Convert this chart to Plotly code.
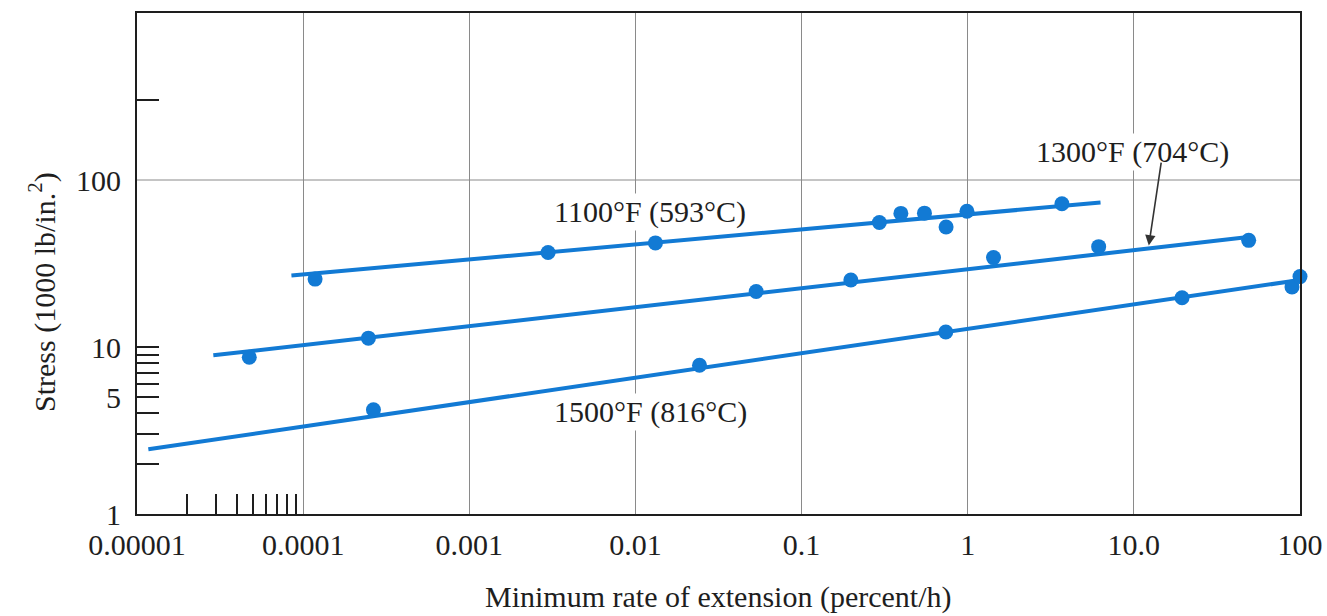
import math
import plotly.graph_objects as go

# ---------------- data ----------------
# 1100°F (593°C)
x_1100 = [1.18e-4, 0.00298, 0.0132, 0.294, 0.396, 0.549, 0.741, 0.989, 3.69]
y_1100 = [25.5, 36.8, 42.0, 55.6, 63.1, 63.3, 52.3, 65.0, 72.1]
fit_x_1100 = [8.5e-5, 6.3]
fit_y_1100 = [26.8, 73.4]

# 1300°F (704°C)
x_1300 = [4.74e-5, 2.47e-4, 0.0533, 0.198, 1.43, 6.14, 49.1]
y_1300 = [8.68, 11.3, 21.5, 25.2, 34.3, 39.9, 43.5]
fit_x_1300 = [2.88e-5, 48.9]
fit_y_1300 = [8.92, 45.5]

# 1500°F (816°C)
x_1500 = [2.65e-4, 0.0243, 0.738, 19.5, 89.5, 100]
y_1500 = [4.21, 7.78, 12.3, 19.7, 22.9, 26.4]
fit_x_1500 = [1.17e-5, 100]
fit_y_1500 = [2.44, 25.2]

# axis ticks
x_tickvals = [1e-5, 1e-4, 1e-3, 1e-2, 1e-1, 1, 10, 100]
x_ticktext = ["0.00001", "0.0001", "0.001", "0.01", "0.1", "1", "10.0", "100"]
x_minor = [2e-5, 3e-5, 4e-5, 5e-5, 6e-5, 7e-5, 8e-5, 9e-5]
y_tickvals = [1, 5, 10, 100]
y_ticktext = ["1", "5", "10", "100"]
y_minor = [2, 3, 4, 5, 6, 7, 8, 9, 10, 300]
y_grid = [100]

# labels: (text, x, y)
labels = [
    ("1100°F (593°C)", 0.0123, 64.7),
    ("1500°F (816°C)", 0.0123, 4.1),
    ("1300°F (704°C)", 9.77, 148),
]
arrow_tip = (12.3, 40.5)

BLUE = "rgb(18,122,212)"
GRID = "#8a8a8a"
INK = "#1e1e1e"
FONT = "Liberation Serif, Times New Roman, serif"
FS = 30

fig = go.Figure()

# horizontal grid line at 100
for gy in y_grid:
    fig.add_trace(go.Scatter(x=[x_tickvals[0], x_tickvals[-1]], y=[gy, gy], mode="lines",
                             line=dict(color=GRID, width=1), hoverinfo="skip", showlegend=False))

for xs, ys, fx, fy in [(x_1100, y_1100, fit_x_1100, fit_y_1100),
                       (x_1300, y_1300, fit_x_1300, fit_y_1300),
                       (x_1500, y_1500, fit_x_1500, fit_y_1500)]:
    fig.add_trace(go.Scatter(x=fx, y=fy, mode="lines", line=dict(color=BLUE, width=4),
                             hoverinfo="skip", showlegend=False, cliponaxis=False))
    fig.add_trace(go.Scatter(x=xs, y=ys, mode="markers", marker=dict(color=BLUE, size=15),
                             showlegend=False, cliponaxis=False))

annotations = []
for text, lx, ly in labels:
    annotations.append(dict(x=math.log10(lx), y=math.log10(ly), xref="x", yref="y", text=text,
                            showarrow=False, bgcolor="white",
                            font=dict(family=FONT, size=FS, color=INK)))
annotations.append(dict(x=math.log10(arrow_tip[0]), y=math.log10(arrow_tip[1]), xref="x", yref="y",
                        text=" ", showarrow=True, ax=13, ay=-87, arrowhead=2, arrowsize=1.3,
                        arrowwidth=1.6, arrowcolor="#333", font=dict(size=4)))
# axis titles
annotations.append(dict(x=0.5, y=-0.166, xref="paper", yref="paper",
                        text="Minimum rate of extension (percent/h)", showarrow=False,
                        xanchor="center", yanchor="middle",
                        font=dict(family=FONT, size=FS, color=INK)))
annotations.append(dict(x=-0.0817, y=0.443, xref="paper", yref="paper",
                        text="Stress (1000 lb/in.<sup>2</sup>)", showarrow=False, textangle=-90,
                        xanchor="center", yanchor="middle",
                        font=dict(family=FONT, size=FS, color=INK)))

fig.update_layout(
    width=1327, height=616,
    margin=dict(l=137, r=27, t=13, b=102),
    paper_bgcolor="white", plot_bgcolor="white",
    annotations=annotations,
    xaxis=dict(type="log", range=[-5, 2], tickmode="array", tickvals=x_tickvals, ticktext=x_ticktext,
               showgrid=True, gridcolor=GRID, gridwidth=1, zeroline=False, automargin=False,
               showline=True, mirror=True, linecolor=INK, linewidth=2, ticks="",
               ticklabelstandoff=3, ticklabeloverflow="allow",
               tickfont=dict(family=FONT, size=FS, color=INK),
               minor=dict(tickmode="array", tickvals=x_minor, ticks="inside", ticklen=20,
                          tickwidth=2, tickcolor=INK, showgrid=False)),
    yaxis=dict(type="log", range=[0, 3], tickmode="array", tickvals=y_tickvals, ticktext=y_ticktext,
               showgrid=False, zeroline=False, automargin=False,
               showline=True, mirror=True, linecolor=INK, linewidth=2, ticks="",
               ticklabelstandoff=8,
               tickfont=dict(family=FONT, size=FS, color=INK),
               minor=dict(tickmode="array", tickvals=y_minor, ticks="inside", ticklen=22,
                          tickwidth=2, tickcolor=INK, showgrid=False)),
)

# remove the browser's default 8px page margin so the figure sits at the window corner
fig.write_html("out.html", config={"displayModeBar": False},
               post_script="document.body.style.margin='0';document.body.style.overflow='hidden';")
